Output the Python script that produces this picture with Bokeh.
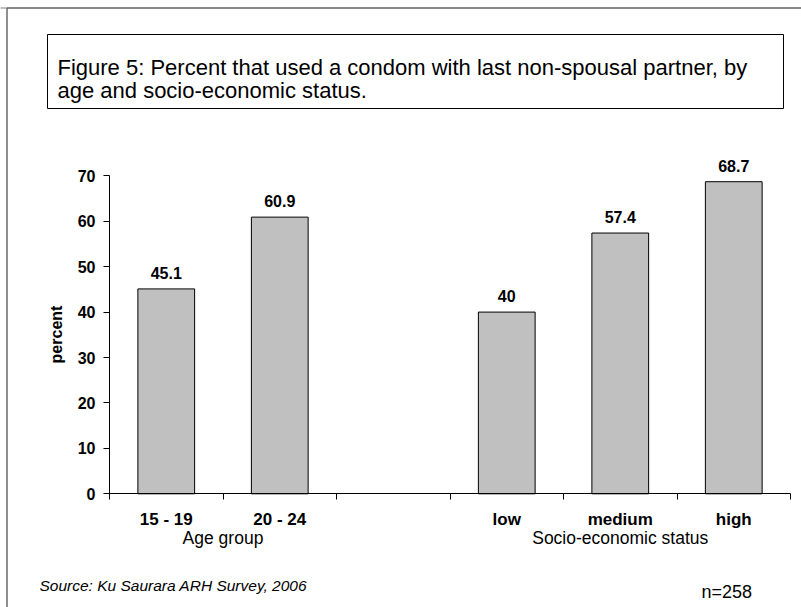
from bokeh.plotting import figure
from bokeh.models import (Range1d, LinearAxis, FixedTicker, ColumnDataSource,
                          LabelSet, Label, BoxAnnotation)
from bokeh.core.properties import value
from bokeh.embed import file_html
from bokeh.resources import INLINE

# ---------------- data ----------------
groups = ["Age group", "Age group",
          "Socio-economic status", "Socio-economic status", "Socio-economic status"]
categories = ["15 - 19", "20 - 24", "low", "medium", "high"]
values = [45.1, 60.9, 40.0, 57.4, 68.7]
y_ticks = [0, 10, 20, 30, 40, 50, 60, 70]
title_lines = ["Figure 5: Percent that used a condom with last non-spousal partner, by",
               "age and socio-economic status."]
source_note = "Source: Ku Saurara ARH Survey, 2006"
n_note = "n=258"
y_label = "percent"

# category slots: one empty slot between the two groups
slot_pos = []
group_names, group_centers = [], []
slot = 0
for i, g in enumerate(groups):
    if i > 0 and g != groups[i - 1]:
        slot += 1                       # gap between groups
    slot_pos.append(slot + 0.5)
    slot += 1
for g in dict.fromkeys(groups):
    members = [slot_pos[i] for i, gg in enumerate(groups) if gg == g]
    group_names.append(g)
    group_centers.append((members[0] + members[-1]) / 2)
N_SLOTS = slot
value_labels = [f"{v:g}" for v in values]

FONT = "Liberation Sans"
W, H = 801, 607
FL, FR, FT, FB = 109, 790, 175.3, 493.3   # chart area edges in canvas pixels
Y_MAX = 70


def xd(px):
    return (px - FL) / (FR - FL) * N_SLOTS


def yd(py):
    return (FB - py) / (FB - FT) * Y_MAX


p = figure(width=W, height=H,
           x_range=Range1d(xd(0), xd(W)), y_range=Range1d(yd(H), yd(0)),
           output_backend="svg", toolbar_location=None,
           x_axis_location=None, y_axis_location=None,
           min_border_left=0, min_border_right=0, min_border_top=0, min_border_bottom=0)
p.background_fill_color = "white"
p.border_fill_color = "white"
p.outline_line_color = None
p.xgrid.visible = False
p.ygrid.visible = False

# ---------------- decorations (outer border, title box) ----------------
p.add_layout(BoxAnnotation(left=xd(6.5), right=xd(3000), top=yd(7.5), bottom=yd(3000),
                           fill_color=None, line_color="#202020", line_alpha=1,
                           line_width=1))
p.add_layout(BoxAnnotation(left=xd(-3000), right=xd(3000), top=yd(7.5), bottom=yd(3000),
                           fill_color=None, line_color="#808080", line_alpha=1,
                           line_width=1))
p.add_layout(BoxAnnotation(left=xd(47), right=xd(783), top=yd(34), bottom=yd(108),
                           fill_color="white", fill_alpha=1,
                           line_color="#000000", line_alpha=1, line_width=1))
for txt, base in zip(title_lines, [67, 90]):
    p.add_layout(Label(x=xd(57), y=yd(base), text=txt,
                       text_font=FONT, text_font_size="22px", text_color="black",
                       text_baseline="alphabetic", text_align="left"))
p.add_layout(Label(x=xd(39), y=yd(585), text=source_note,
                   text_font=FONT, text_font_size="15.5px", text_font_style="italic",
                   text_color="black", text_baseline="alphabetic", text_align="left"))
p.add_layout(Label(x=xd(701), y=yd(591), text=n_note,
                   text_font=FONT, text_font_size="18px", text_color="black",
                   text_baseline="alphabetic", text_align="left"))

# ---------------- bars ----------------
src = ColumnDataSource(dict(x=slot_pos, top=values, label=value_labels))
p.vbar(x="x", top="top", bottom=0, width=0.5, source=src,
       fill_color="#C0C0C0", line_color="black", line_width=1)
p.add_layout(LabelSet(x="x", y="top", text="label", source=src, y_offset=10,
                      text_font=value(FONT), text_font_size=value("16px"),
                      text_font_style="bold", text_color="black",
                      text_align="center", text_baseline="alphabetic"))

# ---------------- axes ----------------
yaxis = LinearAxis(ticker=FixedTicker(ticks=y_ticks), axis_label=y_label,
                   fixed_location=0, bounds=(0, Y_MAX))
yaxis.axis_line_color = "black"
yaxis.major_tick_line_color = "black"
yaxis.major_tick_out = 6
yaxis.major_tick_in = 0
yaxis.minor_tick_line_color = None
yaxis.major_label_text_font = FONT
yaxis.major_label_text_font_size = "16px"
yaxis.major_label_text_font_style = "bold"
yaxis.major_label_text_color = "black"
yaxis.major_label_standoff = 8
yaxis.axis_label_text_font = FONT
yaxis.axis_label_text_font_size = "16px"
yaxis.axis_label_text_font_style = "bold"
yaxis.axis_label_text_color = "black"
yaxis.axis_label_standoff = 10
p.add_layout(yaxis, "left")

# x axis line with tick marks at the slot boundaries
slot_axis = LinearAxis(ticker=FixedTicker(ticks=list(range(N_SLOTS + 1))),
                       fixed_location=0, bounds=(0, N_SLOTS))
slot_axis.major_label_overrides = {i: "" for i in range(N_SLOTS + 1)}
slot_axis.axis_line_color = "black"
slot_axis.major_tick_line_color = "black"
slot_axis.major_tick_out = 6
slot_axis.major_tick_in = 0
slot_axis.minor_tick_line_color = None
slot_axis.major_label_text_font_size = "1px"
p.add_layout(slot_axis, "below")

# category names at the slot centres
cat_axis = LinearAxis(ticker=FixedTicker(ticks=slot_pos), fixed_location=0)
cat_axis.major_label_overrides = {x: c for x, c in zip(slot_pos, categories)}
cat_axis.axis_line_color = None
cat_axis.major_tick_line_color = None
cat_axis.minor_tick_line_color = None
cat_axis.major_tick_out = 0
cat_axis.major_label_text_font = FONT
cat_axis.major_label_text_font_size = "17px"
cat_axis.major_label_text_font_style = "bold"
cat_axis.major_label_text_color = "black"
cat_axis.major_label_standoff = 16
p.add_layout(cat_axis, "below")

# group names centred under each group
grp_axis = LinearAxis(ticker=FixedTicker(ticks=group_centers), fixed_location=0)
grp_axis.major_label_overrides = {x: g for x, g in zip(group_centers, group_names)}
grp_axis.axis_line_color = None
grp_axis.major_tick_line_color = None
grp_axis.minor_tick_line_color = None
grp_axis.major_tick_out = 0
grp_axis.major_label_text_font = FONT
grp_axis.major_label_text_font_size = "17.5px"
grp_axis.major_label_text_font_style = "normal"
grp_axis.major_label_text_color = "black"
grp_axis.major_label_standoff = 34
p.add_layout(grp_axis, "below")

open("out.html", "w").write(file_html(p, INLINE))
